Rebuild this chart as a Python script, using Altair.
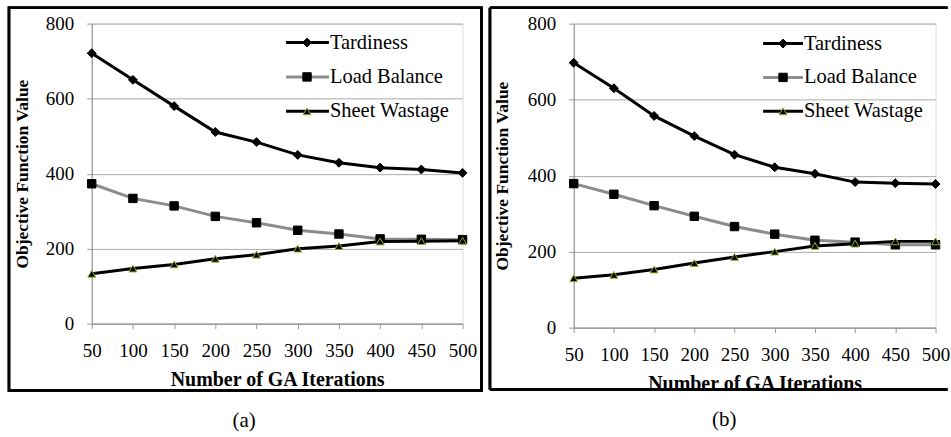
import altair as alt
import pandas as pd

# ---------------- data ----------------
series = ["Tardiness", "Load Balance", "Sheet Wastage"]
iterations = [50, 100, 150, 200, 250, 300, 350, 400, 450, 500]
y_ticks = [0, 200, 400, 600, 800]

tardiness_a = [721, 650, 580, 511, 484, 450, 429, 416, 411, 402]
load_balance_a = [373, 334, 314, 286, 269, 249, 239, 226, 225, 224]
sheet_wastage_a = [133, 147, 158, 173, 184, 200, 207, 219, 220, 221]

tardiness_b = [697, 630, 557, 504, 455, 422, 405, 383, 380, 378]
load_balance_b = [379, 351, 321, 293, 266, 246, 230, 225, 218, 218]
sheet_wastage_b = [130, 139, 153, 170, 186, 200, 215, 221, 227, 227]

captions = ["(a)", "(b)"]
x_title = "Number of GA Iterations"
y_title = "Objective Function Value"

FONT = "'Liberation Serif', 'Times New Roman', Times, 'DejaVu Serif', serif"


def long_df(t, l, s):
    rows = []
    for name, vals in zip(series, [t, l, s]):
        for it, v in zip(iterations, vals):
            rows.append({"iter": it, "value": v, "series": name})
    return pd.DataFrame(rows)


color_scale = alt.Scale(domain=series, range=["#000000", "#8c8c8c", "#000000"])
shape_scale = alt.Scale(domain=series, range=["diamond", "square", "triangle-up"])
stroke_scale = alt.Scale(domain=series, range=["#000000", "#000000", "#8fb32a"])
size_scale = alt.Scale(domain=series, range=[80, 62, 125])


def panel(df, width, height, title_x, leg, border, caption, cap_xy, closed):
    x_enc = alt.X(
        "iter:Q",
        scale=alt.Scale(domain=[50, 500], nice=False, zero=False),
        axis=alt.Axis(
            values=iterations, format="d", grid=False,
            title=x_title, titleFont=FONT, titleFontSize=20, titleFontWeight="bold",
            titleColor="black", titleY=56, titleBaseline="middle",
            labelFont=FONT, labelFontSize=19, labelColor="black", labelPadding=13,
            labelFlush=False, labelOverlap=False,
            tickSize=5, tickColor="#9a9a9a", domainColor="#8a8a8a",
        ),
    )
    y_enc = alt.Y(
        "value:Q",
        scale=alt.Scale(domain=[0, 800], nice=False),
        axis=alt.Axis(
            values=y_ticks, grid=True, gridColor="#ababab",
            title=y_title, titleFont=FONT, titleFontSize=17.5, titleFontWeight="bold",
            titleColor="black", titleX=title_x, titleY=height / 2, titleBaseline="middle",
            labelFont=FONT, labelFontSize=19, labelColor="black", labelPadding=13,
            tickSize=5, tickColor="#9a9a9a", domainColor="#8a8a8a",
        ),
    )
    base = alt.Chart(df)
    lines = base.mark_line(strokeWidth=3).encode(
        x=x_enc, y=y_enc,
        color=alt.Color("series:N", scale=color_scale, legend=None),
    )
    pts = base.mark_point(filled=False, fill="black", fillOpacity=1, strokeWidth=1, opacity=1).encode(
        x="iter:Q", y="value:Q",
        shape=alt.Shape("series:N", scale=shape_scale, legend=None),
        stroke=alt.Stroke("series:N", scale=stroke_scale, legend=None),
        size=alt.Size("series:O", scale=size_scale, legend=None, sort=series),
    )
    main = alt.layer(lines, pts)

    ldf = pd.DataFrame({"series": series})
    leg_y = alt.Y("series:N", scale=alt.Scale(type="point", domain=series, range=leg["y"], padding=0), axis=None)
    lbase = alt.Chart(ldf)
    l_rule = lbase.mark_rule(strokeWidth=3).encode(
        x=alt.value(leg["x0"]), x2=alt.value(leg["x1"]), y=leg_y,
        color=alt.Color("series:N", scale=color_scale, legend=None),
    )
    l_pt = lbase.mark_point(filled=False, fill="black", fillOpacity=1, strokeWidth=1, opacity=1).encode(
        x=alt.value(leg["xm"]), y=leg_y,
        shape=alt.Shape("series:N", scale=shape_scale, legend=None),
        stroke=alt.Stroke("series:N", scale=stroke_scale, legend=None),
        size=alt.Size("series:O", scale=size_scale, legend=None, sort=series),
    )
    l_txt = lbase.mark_text(align="left", baseline="middle", font=FONT, fontSize=20.5, color="black").encode(
        x=alt.value(leg["xt"]), y=leg_y, text="series:N",
    )

    bx0, bx1, by0, by1 = border
    if closed:
        frame = [alt.Chart(ldf).mark_rect(fill="transparent", stroke="black", strokeWidth=2.5).encode(
            x=alt.value(bx0), x2=alt.value(bx1), y=alt.value(by0), y2=alt.value(by1))]
    else:
        frame = [
            alt.Chart(ldf).mark_rule(stroke="black", strokeWidth=2.5).encode(
                x=alt.value(bx0), x2=alt.value(bx1), y=alt.value(by0)),
            alt.Chart(ldf).mark_rule(stroke="black", strokeWidth=2.5).encode(
                x=alt.value(bx0), y=alt.value(by0), y2=alt.value(by1)),
            alt.Chart(ldf).mark_rule(stroke="black", strokeWidth=2.5).encode(
                x=alt.value(bx0), x2=alt.value(bx1), y=alt.value(by1)),
        ]
    cap = alt.Chart(pd.DataFrame({"c": [caption]})).mark_text(
        font=FONT, fontSize=21, color="black", align="center", baseline="middle"
    ).encode(x=alt.value(cap_xy[0]), y=alt.value(cap_xy[1]), text="c:N")

    return alt.layer(main, l_rule, l_pt, l_txt, *frame, cap).resolve_scale(y="independent").properties(
        width=width, height=height
    )


pa = panel(
    long_df(tardiness_a, load_balance_a, sheet_wastage_a), 372, 301, -69,
    {"x0": 195, "x1": 238, "xm": 216, "xt": 239, "y": [19, 88]},
    (-83, 391, -16, 368), captions[0], (153, 399), True,
)
pb = panel(
    long_df(tardiness_b, load_balance_b, sheet_wastage_b), 363, 305, -71,
    {"x0": 190, "x1": 230, "xm": 210, "xt": 231, "y": [20, 88]},
    (-84, 375, -16, 367), captions[1], (151, 398), False,
)

chart = alt.hconcat(pa, pb, spacing=4.5).properties(
    padding={"left": 7, "top": 5, "right": 0, "bottom": 0}
).configure_view(stroke=None).configure(background="white")

chart.save("out.html", embed_options={"renderer": "svg", "actions": False})
